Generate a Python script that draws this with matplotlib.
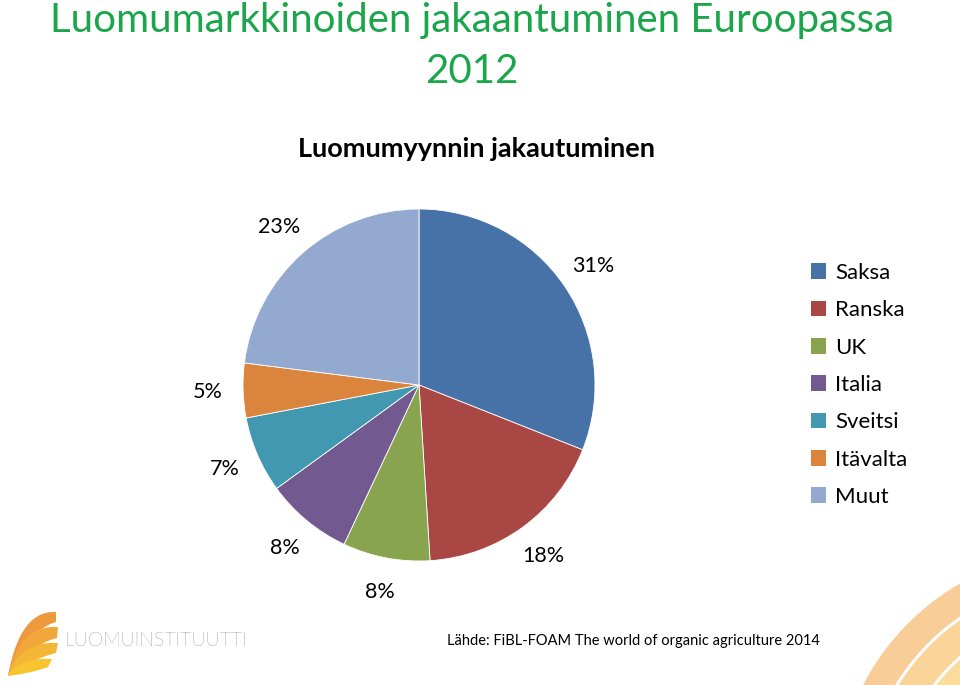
import numpy as np
import matplotlib
matplotlib.use("Agg")
import matplotlib.pyplot as plt
from matplotlib.patches import Wedge, PathPatch, Patch
from matplotlib.path import Path

plt.rcParams['font.family'] = ['Lato', 'DejaVu Sans']

# ---- data ----
categories = ["Saksa", "Ranska", "UK", "Italia", "Sveitsi", "Itävalta", "Muut"]
shares = [31, 18, 8, 8, 7, 5, 23]
colors = ["#4672A8", "#A94744", "#89A44F", "#725A91", "#4298B0", "#DB843E", "#94A9D0"]
title_line1 = "Luomumarkkinoiden jakaantuminen Euroopassa"
title_line2 = "2012"
subtitle_text = "Luomumyynnin jakautuminen"
source_text = "Lähde: FiBL-FOAM The world of organic agriculture 2014"
logo_text = "LUOMUINSTITUUTTI"

W, H = 960, 685
fig = plt.figure(figsize=(W / 100, H / 100), dpi=100)
fig.patch.set_facecolor("white")

# ---- decoration layer (pixel coordinates) ----
deco = fig.add_axes([0, 0, 1, 1])
deco.set_xlim(0, W)
deco.set_ylim(H, 0)
deco.axis("off")

# bottom-right arcs
cx, cy = 1085, 800
band_cols = ["#F9CB92", "#FAD293", "#FBDA96", "#FCE3A0"]
r0 = 250
for i, c in enumerate(band_cols):
    ro = r0 - i * 31
    w = Wedge((cx, cy), ro, 180 + 12 + i * 4, 270 - 5, width=28,
              facecolor=c, edgecolor="none", alpha=0.95)
    deco.add_patch(w)


def bez(p0, p1, p2, n=30):
    t = np.linspace(0, 1, n)[:, None]
    return (1 - t) ** 2 * np.array(p0) + 2 * (1 - t) * t * np.array(p1) + t ** 2 * np.array(p2)


# logo feathers
tip = (8, 676)
ends = [((56, 612), (56, 622)), ((58, 627), (57, 638)), ((58, 643), (56, 653)), ((52, 659), (48, 667))]
logo_cols = ["#EE9A3C", "#F2A73A", "#F5B536", "#F8C530"]
for (e_top, e_bot), c in zip(ends, logo_cols):
    up = bez(tip, (tip[0] + 12, e_top[1] - 2), e_top)
    lo = bez(e_bot, (tip[0] + 24, e_bot[1] + 6), tip)
    verts = np.vstack([up, lo])
    codes = [Path.MOVETO] + [Path.LINETO] * (len(verts) - 2) + [Path.CLOSEPOLY]
    deco.add_patch(PathPatch(Path(verts, codes), facecolor=c, edgecolor="none"))

deco.text(65, 641, logo_text, fontsize=14, color="#404040", fontweight="light",
          ha="left", va="center")
deco.text(447, 641, source_text, fontsize=10.5, color="black", ha="left", va="center")

# titles
deco.text(472, 20, title_line1, fontsize=29, color="#1BA64B", ha="center", va="center")
deco.text(472, 71, title_line2, fontsize=29, color="#1BA64B", ha="center", va="center")
deco.text(477, 149, subtitle_text, fontsize=19.5, fontweight="bold", color="black",
          ha="center", va="center")

# ---- pie ----
pcx, pcy, rad = 419, 385, 176
ax = fig.add_axes([(pcx - rad) / W, 1 - (pcy + rad) / H, 2 * rad / W, 2 * rad / H])
wedges, texts, autotexts = ax.pie(
    shares, colors=colors, startangle=90, counterclock=False,
    autopct="%.0f%%", pctdistance=1.2,
    wedgeprops=dict(edgecolor="white", linewidth=0.6),
    textprops=dict(fontsize=15.5, color="black"))
ax.set_xlim(-1, 1)
ax.set_ylim(-1, 1)
ax.set_aspect("equal")
ax.axis("off")

handles = [Patch(facecolor=c, edgecolor="none") for c in colors]
fig.legend(handles, categories, loc="upper left",
           bbox_to_anchor=(802 / W, 1 - 254 / H), frameon=False,
           fontsize=16, handlelength=0.7, handleheight=0.7,
           handletextpad=0.4, labelspacing=0.78, borderaxespad=0)

fig.savefig("out.png", dpi=100, facecolor="white")
